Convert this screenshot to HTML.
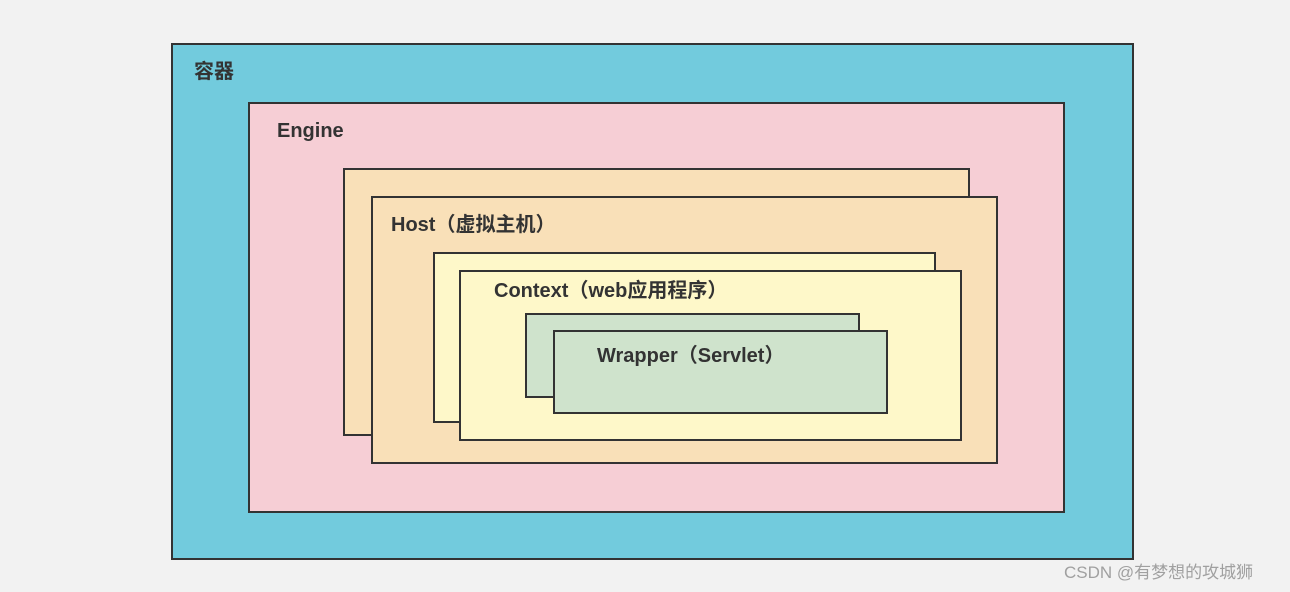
<!DOCTYPE html>
<html><head><meta charset="utf-8"><style>
body{margin:0;width:1290px;height:592px;background:#f2f2f2;position:relative;overflow:hidden;font-family:"Liberation Sans","Noto Sans CJK SC",sans-serif}
.b{position:absolute;box-sizing:border-box;border:2.5px solid #333}
.t{position:absolute;font-weight:bold;font-size:20px;color:#333;line-height:24px;white-space:nowrap}
</style></head><body>
<div class="b" style="left:171px;top:43px;width:963px;height:517px;background:#72cbdd"></div>
<div class="t" style="left:194px;top:60px">容器</div>
<div class="b" style="left:248px;top:102px;width:817px;height:411px;background:#f6ced5"></div>
<div class="t" style="left:277px;top:119px">Engine</div>
<div class="b" style="left:343px;top:168px;width:627px;height:268px;background:#f9e0b8"></div>
<div class="b" style="left:371px;top:196px;width:627px;height:268px;background:#f9e0b8"></div>
<div class="t" style="left:391px;top:213px">Host（虚拟主机）</div>
<div class="b" style="left:433px;top:252px;width:503px;height:171px;background:#fef8c9"></div>
<div class="b" style="left:459px;top:270px;width:503px;height:171px;background:#fef8c9"></div>
<div class="t" style="left:494px;top:279px">Context（web应用程序）</div>
<div class="b" style="left:525px;top:313px;width:335px;height:85px;background:#cfe3cc"></div>
<div class="b" style="left:553px;top:330px;width:335px;height:84px;background:#cfe3cc"></div>
<div class="t" style="left:597px;top:344px">Wrapper（Servlet）</div>
<div style="position:absolute;left:1064px;top:562px;font-size:17px;color:#a0a0a0;white-space:nowrap;line-height:22px">CSDN @有梦想的攻城狮</div>
</body></html>
